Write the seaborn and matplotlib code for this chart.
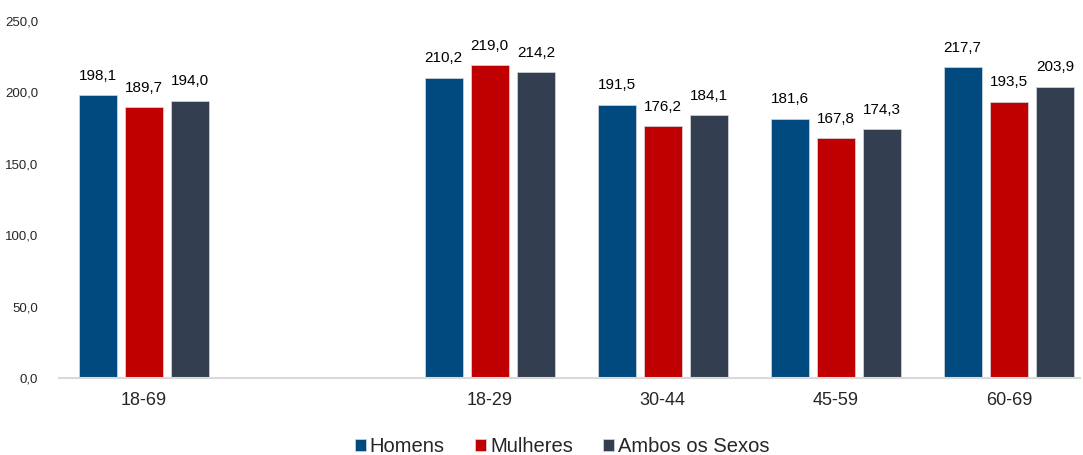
import pandas as pd
import numpy as np
import matplotlib
matplotlib.use("Agg")
import matplotlib.pyplot as plt
import seaborn as sns

# Daten
faixas = ["18-69", "18-29", "30-44", "45-59", "60-69"]
homens = [198.1, 210.2, 191.5, 181.6, 217.7]
mulheres = [189.7, 219.0, 176.2, 167.8, 193.5]
ambos = [194.0, 214.2, 184.1, 174.3, 203.9]
series = ["Homens", "Mulheres", "Ambos os Sexos"]
cores = ["#014A7F", "#C00000", "#333F50"]

# ordem com uma categoria vazia entre 18-69 e as faixas
ordem = ["18-69", " ", "18-29", "30-44", "45-59", "60-69"]

df = pd.DataFrame({
    "faixa": faixas * 3,
    "serie": [series[0]] * 5 + [series[1]] * 5 + [series[2]] * 5,
    "valor": homens + mulheres + ambos,
})

sns.set_style("white")
plt.rcParams["font.family"] = ["Liberation Sans", "DejaVu Sans"]

fig = plt.figure(figsize=(10.83, 4.55), dpi=100)
ax = fig.add_axes([0.0545, 0.169, 0.9425, 0.785])

sns.barplot(data=df, x="faixa", y="valor", hue="serie", order=ordem,
            hue_order=series, palette=cores, width=0.8, gap=0.17,
            edgecolor="#D5D9DF", linewidth=0.5, saturation=1,
            errorbar=None, ax=ax)

for cont in ax.containers:
    labels = [f"{v:.1f}".replace(".", ",") for v in cont.datavalues]
    ax.bar_label(cont, labels=labels, padding=9, fontsize=11, color="black")

ax.set_ylim(0, 250)
ax.set_xlim(-0.49, 5.41)
ax.set_yticks(np.arange(0, 251, 50))
ax.set_yticklabels([f"{v:.1f}".replace(".", ",") for v in np.arange(0, 251, 50)])
ax.tick_params(axis="y", length=0, labelsize=9.5, pad=15)
ax.tick_params(axis="x", length=0, labelsize=13, pad=10)
ax.set_xlabel("")
ax.set_ylabel("")

for s in ["top", "right", "left"]:
    ax.spines[s].set_visible(False)
ax.spines["bottom"].set_color("#D9D9D9")
ax.spines["bottom"].set_linewidth(1.5)

handles, labels = ax.get_legend_handles_labels()
ax.get_legend().remove()
fig.legend(handles, labels, loc="center", bbox_to_anchor=(0.519, 0.018), ncol=3,
           frameon=False, fontsize=14.5, handlelength=0.55, handleheight=0.55,
           handletextpad=0.2, columnspacing=1.5, borderpad=0)

plt.savefig("out.png", dpi=100)
plt.close()
